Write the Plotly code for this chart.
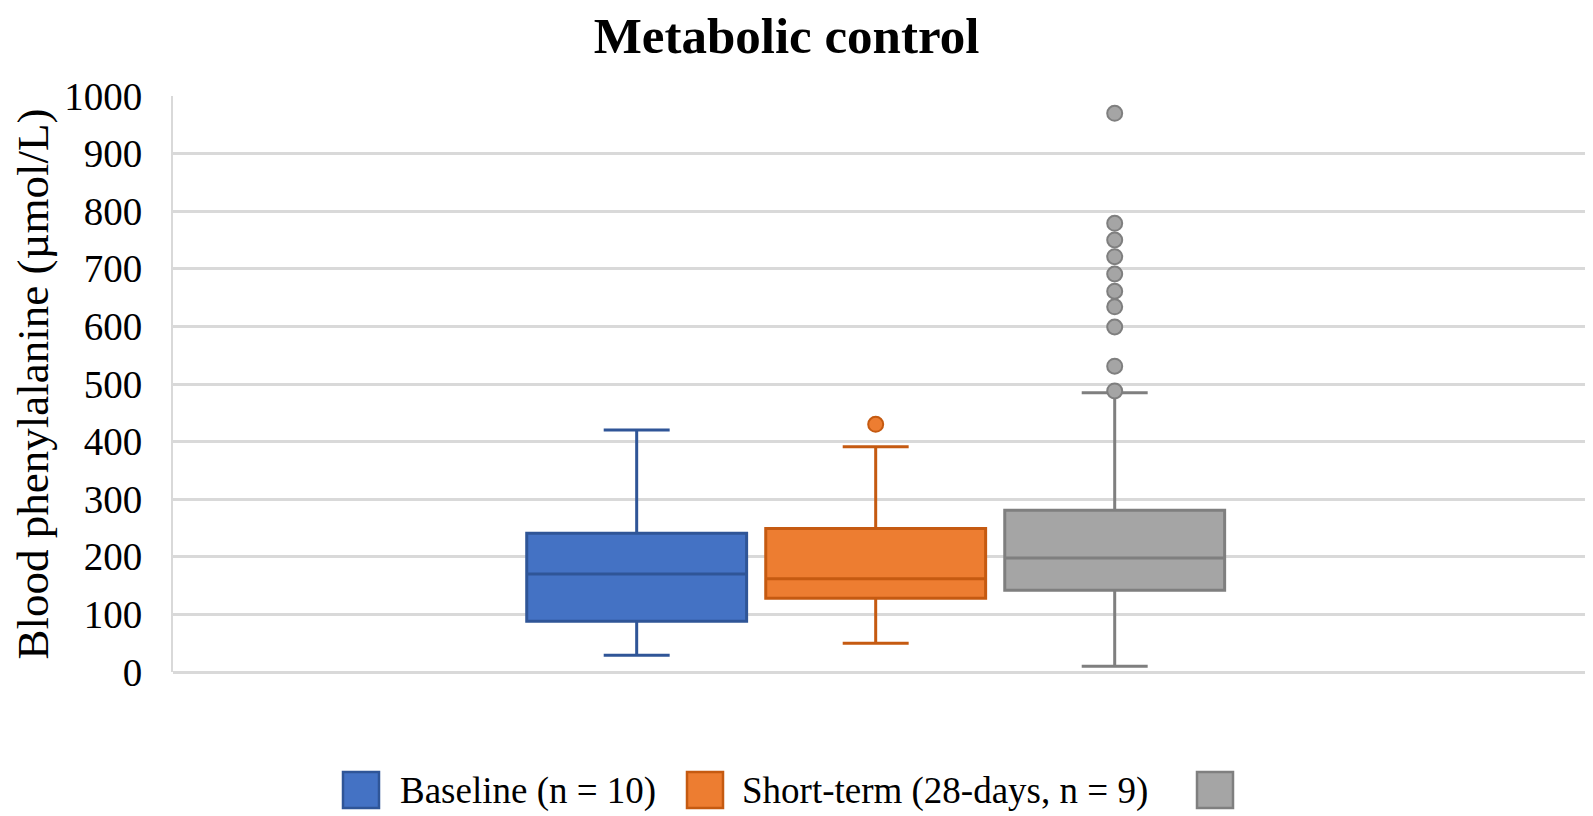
import plotly.graph_objects as go

# ---- data ----
groups = ["Baseline", "Short-term", "Long-term"]
legend_labels = ["Baseline (n = 10)", "Short-term (28-days, n = 9)", ""]
lower_fence = [29, 50, 10]
q1 = [88, 128, 142]
median = [170, 162, 198]
q3 = [241, 249, 281]
upper_fence = [420, 391, 485]
outliers = [[], [430], [970, 779, 750, 721, 691, 661, 634, 599, 531, 488]]

fill_colors = ["#4472C4", "#ED7D31", "#A5A5A5"]
line_colors = ["#2F5597", "#C55A11", "#7F7F7F"]

y_ticks = list(range(0, 1001, 100))

# page offset from the browser's default body margin
OFF = 8
W, H = 1593 - OFF, 816 - OFF
L, R, T = 173 - OFF, 1, 96 - OFF
B = H - (672 - OFF)
FONT = "Liberation Serif, Times New Roman, serif"

fig = go.Figure()
for i, g in enumerate(groups):
    fig.add_trace(go.Box(
        x=[g], q1=[q1[i]], median=[median[i]], q3=[q3[i]],
        lowerfence=[lower_fence[i]], upperfence=[upper_fence[i]],
        fillcolor=fill_colors[i],
        line=dict(color=line_colors[i], width=3),
        width=0.92,
        whiskerwidth=0.3, boxpoints=False, showlegend=False,
        name=legend_labels[i] or g,
    ))
    if outliers[i]:
        fig.add_trace(go.Scatter(
            x=[g] * len(outliers[i]), y=outliers[i], mode="markers",
            marker=dict(size=15, color=fill_colors[i],
                        line=dict(color=line_colors[i], width=2)),
            showlegend=False, hoverinfo="y",
        ))

pw, ph = W - L - R, H - T - B
def px_x(px):
    return (px - OFF - L) / pw
def px_y(py):
    return (H - B - (py - OFF)) / ph

# custom legend (large squares as in reference), page-pixel positions
sq_left = [343, 687, 1197]
txt_left = [398, 740, None]
sq_top, sq_size = 772, 36
for i in range(3):
    fig.add_shape(type="rect", xref="paper", yref="paper",
                  x0=px_x(sq_left[i]), x1=px_x(sq_left[i] + sq_size),
                  y0=px_y(sq_top + sq_size), y1=px_y(sq_top),
                  fillcolor=fill_colors[i],
                  line=dict(color=line_colors[i], width=2.5))
    if legend_labels[i]:
        fig.add_annotation(xref="paper", yref="paper",
                           x=px_x(txt_left[i]), y=px_y(791),
                           xanchor="left", yanchor="middle",
                           text=legend_labels[i], showarrow=False,
                           font=dict(family=FONT, size=37, color="#000000"))

fig.update_layout(
    width=W, height=H,
    margin=dict(l=L, r=R, t=T, b=B, autoexpand=False),
    paper_bgcolor="white", plot_bgcolor="white",
    font=dict(family=FONT, color="#000000"),
    title=dict(text="<b>Metabolic control</b>", xref="container", yref="container",
               x=(786.5 - OFF) / W, y=1.0 - 9 / H, xanchor="center", yanchor="top",
               pad=dict(t=0, b=0),
               font=dict(family=FONT, size=51, color="#000000")),
    showlegend=False,
)
fig.update_xaxes(type="category", categoryorder="array", categoryarray=groups,
                 range=[-1.94, 3.997], showticklabels=False, showgrid=False,
                 zeroline=False, showline=False, ticks="", automargin=False)
fig.update_yaxes(range=[0, 1000], tickvals=y_ticks, ticktext=[str(v) for v in y_ticks],
                 showgrid=True, gridcolor="#D9D9D9", gridwidth=2.5,
                 zeroline=True, zerolinecolor="#D9D9D9", zerolinewidth=2.5,
                 showline=True, linecolor="#D9D9D9", linewidth=2,
                 ticks="", ticklabelstandoff=21, automargin=False,
                 tickfont=dict(family=FONT, size=39, color="#000000"),
                 title=dict(text="Blood phenylalanine (µmol/L)", standoff=42,
                            font=dict(family=FONT, size=45, color="#000000")))

fig.write_html("out.html")
